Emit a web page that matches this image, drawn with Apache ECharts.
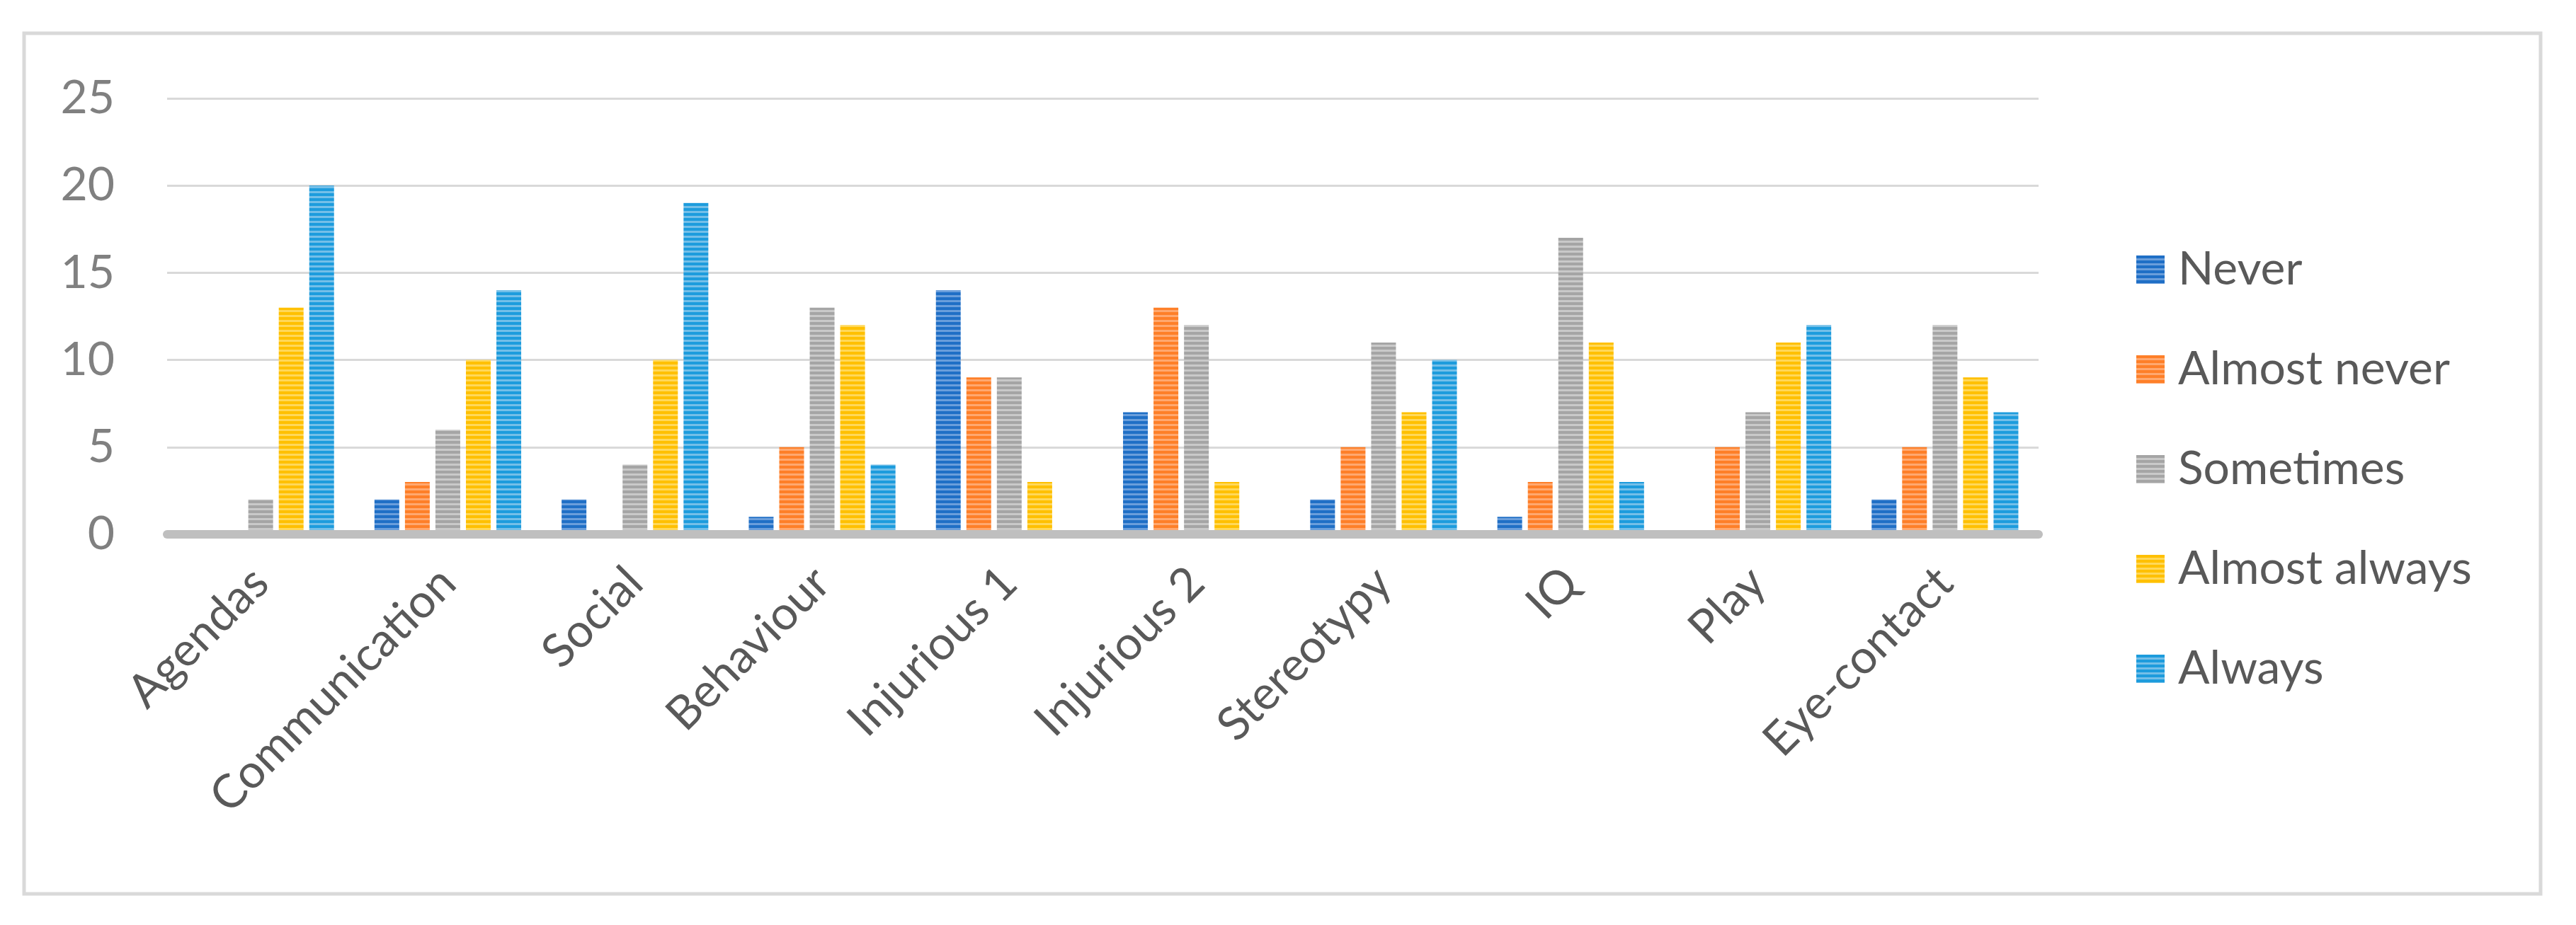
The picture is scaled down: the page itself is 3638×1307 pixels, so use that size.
<!DOCTYPE html>
<html>
<head>
<meta charset="utf-8">
<script src="https://cdn.jsdelivr.net/npm/echarts@6/dist/echarts.min.js"></script>
<style>
html,body{margin:0;padding:0;background:#fff;}
#chart{width:3638px;height:1307px;}
</style>
</head>
<body>
<div id="chart"></div>
<script>
const categories = ['Agendas','Communication','Social','Behaviour','Injurious 1','Injurious 2','Stereotypy','IQ','Play','Eye-contact'];
const seriesNames = ['Never','Almost never','Sometimes','Almost always','Always'];
const never        = [0, 2, 2, 1, 14, 7, 2, 1, 0, 2];
const almostNever  = [0, 3, 0, 5, 9, 13, 5, 3, 5, 5];
const sometimes    = [2, 6, 4, 13, 9, 12, 11, 17, 7, 12];
const almostAlways = [13, 10, 10, 12, 3, 3, 7, 11, 11, 9];
const always       = [20, 14, 19, 4, 0, 0, 10, 3, 12, 7];
const yTicks = {min: 0, max: 25, interval: 5};

const palette = [
  ['#1f6fc6', '#6a9edb'],
  ['#fe7f28', '#ffa86f'],
  ['#a5a5a5', '#c9c9c9'],
  ['#ffc000', '#ffd85a'],
  ['#1d9cdd', '#74bfe8']
];

function stripe(dark, light) {
  const c = document.createElement('canvas');
  c.width = 4; c.height = 7;
  const ctx = c.getContext('2d');
  ctx.fillStyle = dark; ctx.fillRect(0, 0, 4, 7);
  ctx.fillStyle = light; ctx.fillRect(0, 4, 4, 3);
  return {image: c, repeat: 'repeat'};
}

const values = [never, almostNever, sometimes, almostAlways, always];
const font = 'Lato';

const chart = echarts.init(document.getElementById('chart'), null, {renderer: 'canvas'});
chart.setOption({
  animation: false,
  backgroundColor: '#ffffff',
  graphic: [{
    type: 'rect',
    shape: {x: 34, y: 47, width: 3554, height: 1216},
    style: {fill: 'none', stroke: '#d9d9d9', lineWidth: 5},
    z: -1
  }],
  grid: {left: 236, right: 759, top: 139, bottom: 552, containLabel: false},
  legend: {
    orient: 'vertical',
    left: 3012,
    top: 343,
    itemWidth: 40,
    itemHeight: 40,
    itemGap: 75,
    icon: 'rect',
    data: seriesNames,
    textStyle: {fontFamily: font, fontSize: 66, color: '#595959', padding: [0, 0, 0, 14]}
  },
  xAxis: {
    type: 'category',
    data: categories,
    z: 10,
    axisLine: {show: true, lineStyle: {color: '#bfbfbf', width: 12}},
    axisTick: {show: false},
    axisLabel: {interval: 0, rotate: 45, margin: 58, fontFamily: font, fontSize: 66, color: '#595959'}
  },
  yAxis: {
    type: 'value',
    min: yTicks.min,
    max: yTicks.max,
    interval: yTicks.interval,
    axisLine: {show: false},
    axisTick: {show: false},
    axisLabel: {margin: 74, fontFamily: font, fontSize: 66, color: '#808080'},
    splitLine: {lineStyle: {color: '#d9d9d9', width: 3}}
  },
  series: seriesNames.map((name, i) => ({
    name: name,
    type: 'bar',
    data: values[i],
    barWidth: 35,
    barGap: '23%',
    itemStyle: {color: stripe(palette[i][0], palette[i][1])}
  }))
});
</script>
</body>
</html>
